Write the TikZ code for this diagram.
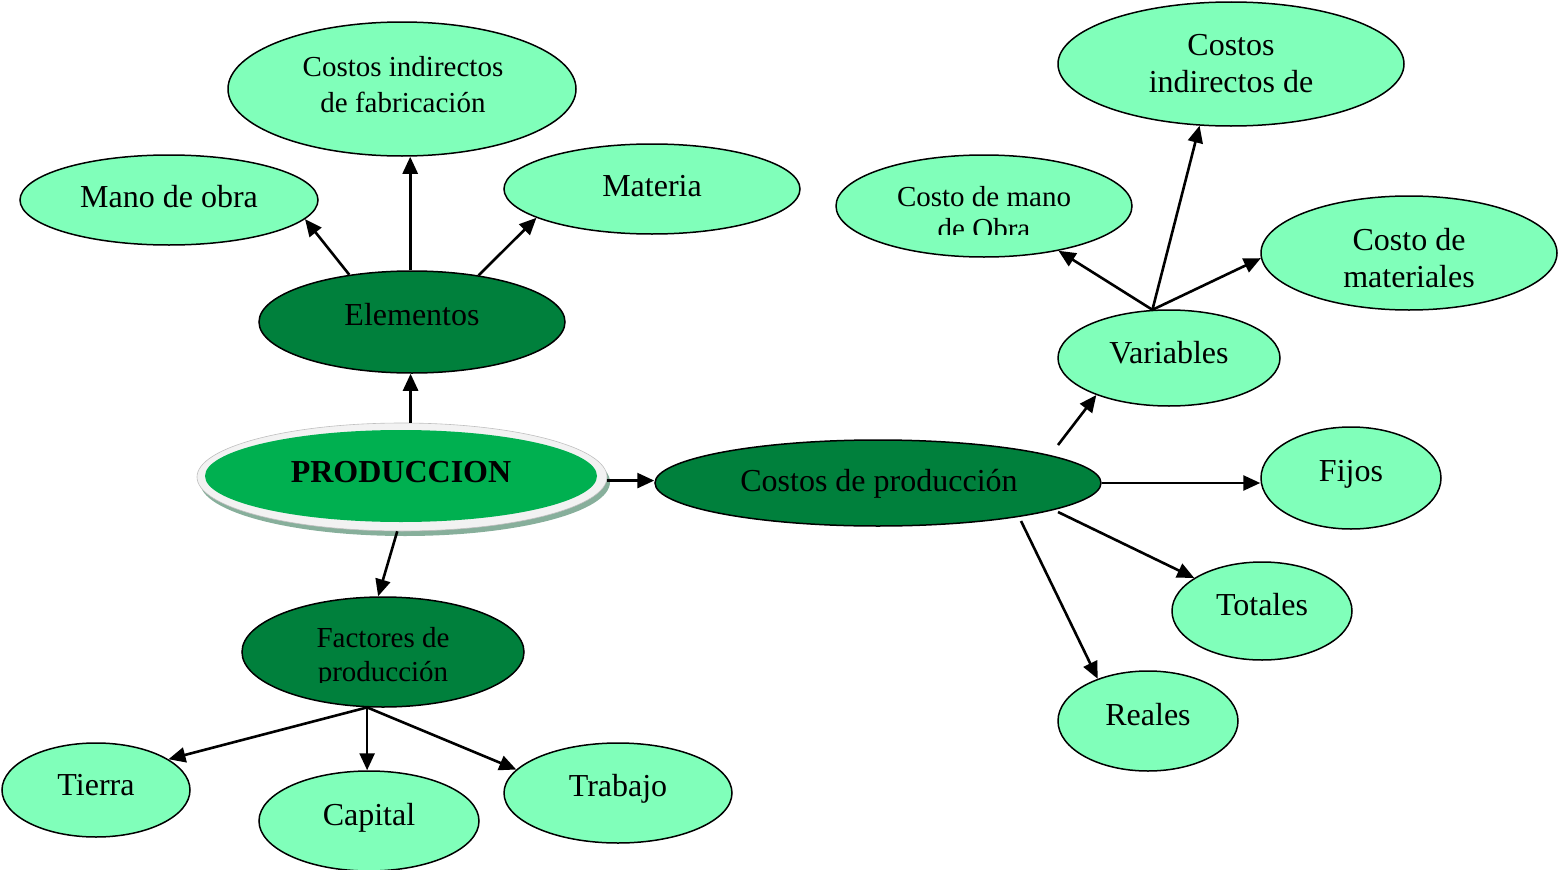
\documentclass[tikz,border=0pt]{standalone}
\usepackage{fontspec}
\setmainfont{Liberation Serif}
\usetikzlibrary{shapes.geometric,arrows.meta,calc}
\definecolor{lightg}{RGB}{128,255,186}
\definecolor{darkg}{RGB}{0,128,60}
\definecolor{prodg}{RGB}{0,176,80}
\definecolor{ringg}{RGB}{242,242,242}
\definecolor{shadg}{RGB}{135,175,155}
\tikzset{
  ebase/.style={ellipse, draw=black, line width=1.5pt, inner sep=0pt},
  leaf/.style={ebase, fill=lightg},
  midnode/.style={ebase, fill=darkg},
  esize/.style 2 args={minimum width=#1pt, minimum height=#2pt},
  txt/.style={font=\fontsize{32}{36}\selectfont, inner sep=0pt, text height=22pt, text depth=0pt},
  mtxt/.style={font=\fontsize{32}{37}\selectfont, inner sep=0pt, align=center},
  stxt/.style={font=\fontsize{29}{36}\selectfont, inner sep=0pt, align=center},
  arr/.style={-{Triangle[length=17pt,width=15pt]}, line width=2.6pt},
}
\begin{document}
\begin{tikzpicture}[x=1pt,y=-1pt]
\useasboundingbox (0,0) rectangle (1559,870);
% ---- ellipses ----
\node[leaf, esize={298}{90}] (mano) at (169,200) {};
\node[leaf, esize={348}{134}] (cif) at (402,89) {};
\node[leaf, esize={296}{90}] (mat) at (652,189) {};
\node[midnode, esize={306}{102}] (elem) at (412,322) {};
\node[ellipse, fill=shadg, esize={410}{108}, inner sep=0pt] (prodshadow) at (405,482) {};
\node[ellipse, fill=ringg, draw=black!25, line width=0.6pt, esize={410}{108}, inner sep=0pt] (prod) at (402,477) {};
\node[ellipse, fill=prodg, esize={392}{92}, inner sep=0pt] (prodin) at (401,476) {};
\node[midnode, esize={446}{86}] (cp) at (878,483) {};
\node[midnode, esize={282}{110}] (fact) at (383,652) {};
\node[leaf, esize={188}{94}] (tierra) at (96,790) {};
\node[leaf, esize={220}{100}] (capital) at (369,821) {};
\node[leaf, esize={228}{100}] (trabajo) at (618,793) {};
\node[leaf, esize={346}{124}] (ci) at (1231,64) {};
\node[leaf, esize={296}{102}] (cmo) at (984,206) {};
\node[leaf, esize={296}{114}] (cmat) at (1409,253) {};
\node[leaf, esize={222}{96}] (var) at (1169,358) {};
\node[leaf, esize={180}{102}] (fijos) at (1351,478) {};
\node[leaf, esize={180}{98}] (tot) at (1262,611) {};
\node[leaf, esize={180}{100}] (reales) at (1148,721) {};
% ---- texts ----
\node[txt] (t-mano) at (169,196) {Mano de obra};
\node[stxt] (t-cif) at (403,85) {Costos indirectos\\de fabricación};
\node[txt] (t-mat) at (652,185) {Materia};
\node[txt] (t-elem) at (412,314) {Elementos};
\node[txt, font=\fontsize{32}{36}\selectfont\bfseries] (t-prod) at (401,471) {PRODUCCION};
\node[txt] (t-cp) at (879,480) {Costos de producción};
\begin{scope}
  \clip (240,590) rectangle (530,682);
  \node[stxt, font=\fontsize{29}{34}\selectfont] (t-fact) at (383,658) {Factores de\\producción};
\end{scope}
\node[txt] (t-tierra) at (96,784) {Tierra};
\node[txt] (t-capital) at (369,814) {Capital};
\node[txt] (t-trabajo) at (618,785) {Trabajo};
\node[mtxt] (t-ci) at (1231,64) {Costos\\indirectos de};
\begin{scope}
  \clip (820,150) rectangle (1150,234);
  \node[stxt, font=\fontsize{29}{32}\selectfont] (t-cmo) at (984,213) {Costo de mano\\de Obra};
\end{scope}
\node[mtxt] (t-cmat) at (1409,258) {Costo de\\materiales};
\node[txt] (t-var) at (1169,352) {Variables};
\node[txt] (t-fijos) at (1351,470) {Fijos};
\node[txt] (t-tot) at (1262,604) {Totales};
\node[txt] (t-reales) at (1148,714) {Reales};
% ---- connectors ----
\draw[arr] (elem.143.7) -- (mano.-8);
\draw[arr] (elem.92) -- (elem.92 |- cif.south);
\draw[arr] (elem.35.5) -- (mat.194.9);
\draw[arr] (prod.81) -- (prod.81 |- elem.south);
\draw[arr] (prod.-1) -- (prod.-1 -| cp.west);
\draw[arr] (prod.-95) -- (fact.95);
\draw[arr] (fact.-106) -- (tierra.23.5);
\draw[arr] (fact.-106) -- (fact.-106 |- capital.north);
\draw[arr] (fact.-106) -- (trabajo.167.7);
\coordinate (cpv) at ($(cp.center)+(180,-38)$);
\coordinate (cpt) at ($(cp.center)+(180,29)$);
\coordinate (cpr) at ($(cp.center)+(143,38)$);
\draw[arr] (cpv) -- (var.-153.8);
\draw[arr] (cp.east) -- (cp.east -| fijos.west);
\draw[arr] (cpt) -- (tot.154.4);
\draw[arr] (cpr) -- (reales.140.9);
\draw[arr] (var.109.5) -- (cmo.-31.7);
\draw[arr] (var.109.5) -- (ci.-117.3);
\draw[arr] (var.109.5) -- (cmat.-178);
\end{tikzpicture}
\end{document}
